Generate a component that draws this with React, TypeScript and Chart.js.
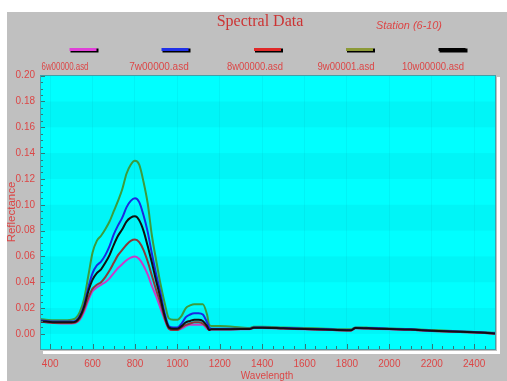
import React, { useEffect, useRef } from "react";
import { Chart, registerables } from "chart.js";

Chart.register(...registerables);

const wavelengths = [350,380,420,460,500,520,540,560,580,600,620,640,660,680,700,720,740,760,780,800,820,840,860,880,900,920,940,960,980,1000,1020,1040,1060,1080,1100,1120,1140,1150,1160,1200,1300,1340,1360,1400,1500,1600,1700,1800,1820,1840,1900,2000,2100,2200,2300,2400,2450,2500];

const s6w = [0.0095,0.009,0.0085,0.008,0.008, 0.0085,0.011,0.017,0.026,0.033, 0.036,0.038,0.040,0.043,0.047, 0.051,0.054,0.057,0.059,0.060, 0.058,0.053,0.046,0.037,0.029, 0.020,0.011,0.004,0.003,0.003, 0.004,0.006,0.007,0.007,0.007, 0.007,0.004,0.003,0.0033,0.0033, 0.0036,0.0036,0.0046,0.0046,0.0041, 0.0036,0.0031,0.0026,0.0026,0.0044, 0.0041,0.0036,0.0031,0.0022,0.0016, 0.001,0.0006,0.0001];
const s7w = [0.0105,0.010,0.0095,0.0095,0.0095, 0.010,0.014,0.022,0.036,0.047, 0.053,0.056,0.061,0.068,0.077, 0.084,0.090,0.098,0.103,0.105, 0.102,0.092,0.079,0.062,0.046, 0.032,0.016,0.006,0.005,0.005, 0.008,0.013,0.015,0.016,0.016, 0.015,0.009,0.005,0.004,0.004, 0.004,0.004,0.005,0.005,0.0045, 0.004,0.0035,0.003,0.003,0.0048, 0.0045,0.004,0.0035,0.0025,0.002, 0.0015,0.001,0.0005];
const s8w = [0.0095,0.009,0.0085,0.0085,0.0085, 0.009,0.012,0.019,0.028,0.035, 0.038,0.040,0.044,0.049,0.055, 0.061,0.065,0.069,0.072,0.073, 0.071,0.065,0.056,0.045,0.034, 0.024,0.012,0.004,0.003,0.003, 0.005,0.007,0.008,0.009,0.009, 0.008,0.005,0.003,0.0035,0.0035, 0.0037,0.0037,0.0047,0.0047,0.0042, 0.0037,0.0032,0.0027,0.0027,0.0045, 0.0042,0.0037,0.0032,0.0023,0.0017, 0.0011,0.0007,0.0002];
const s9w = [0.0115,0.011,0.0105,0.0105,0.011, 0.012,0.017,0.027,0.045,0.063, 0.072,0.076,0.081,0.087,0.095, 0.103,0.112,0.124,0.131,0.134, 0.131,0.118,0.101,0.076,0.057, 0.039,0.024,0.012,0.011,0.011, 0.014,0.020,0.022,0.023,0.023, 0.023,0.015,0.007,0.006,0.006, 0.005,0.0045,0.0055,0.0055,0.005, 0.0045,0.004,0.0035,0.0035,0.005, 0.0048,0.0042,0.0038,0.003,0.0022, 0.0015,0.0012,0.0008];
const s10w = [0.0095,0.0095,0.009,0.009,0.009, 0.0095,0.013,0.021,0.033,0.042, 0.047,0.050,0.055,0.061,0.069, 0.076,0.081,0.087,0.090,0.091, 0.088,0.080,0.068,0.055,0.041, 0.028,0.014,0.005,0.004,0.004, 0.006,0.009,0.010,0.011,0.011, 0.010,0.006,0.003,0.0035,0.0035, 0.0038,0.0038,0.0048,0.0048,0.0043, 0.0038,0.0033,0.0028,0.0028,0.0046, 0.0043,0.0038,0.0033,0.0024,0.0018, 0.0012,0.0008,0.0002];

const seriesNames = ["6w00000.asd", "7w00000.asd", "8w00000.asd", "9w00001.asd", "10w00000.asd"];
const seriesValues = [s6w, s7w, s8w, s9w, s10w];
const drawOrder = [4, 1, 3, 2, 0];
const lineColors = ["#c83cc8", "#1c28e0", "#8b3a3a", "#3c9c3c", "#101010"];
const legendColors = ["#e040d8", "#2030e8", "#e02828", "#8c9a38", "#000000"];
const legendLineX = [83.5, 175.5, 268, 360, 452.5];
const legendLabelX = [65, 159, 255, 346, 433];
const legendLabelW = [47, 60, 56, 57, 62];

const xTickValues = [400, 600, 800, 1000, 1200, 1400, 1600, 1800, 2000, 2200, 2400];
const yTickValues = [0, 0.02, 0.04, 0.06, 0.08, 0.1, 0.12, 0.14, 0.16, 0.18, 0.2];

const RED = "#dc4646";

const decorPlugin = {
  id: "decor",
  beforeDraw(chart: any) {
    const { ctx, chartArea: a, scales } = chart;
    const y = scales.y;
    ctx.save();
    ctx.fillStyle = "#ffffff";
    ctx.fillRect(0, 0, chart.width, chart.height);
    ctx.fillStyle = "#c0c0c0";
    ctx.fillRect(7, 12, chart.width - 7, chart.height - 12);
    ctx.fillStyle = "#00ffff";
    ctx.fillRect(a.left, a.top, a.right - a.left, a.bottom - a.top);
    ctx.fillStyle = "#00f5f7";
    for (let i = 0; i < yTickValues.length - 1; i++) {
      if (i % 2 === 0) {
        const top = y.getPixelForValue(yTickValues[i + 1]);
        const bot = y.getPixelForValue(yTickValues[i]);
        ctx.fillRect(a.left, top, a.right - a.left, bot - top);
      }
    }
    ctx.fillStyle = "#ffffff";
    ctx.fillRect(a.left + 3, a.bottom + 1, a.right - a.left + 1, 3);
    ctx.fillRect(a.right + 1, a.top + 2, 3, a.bottom - a.top + 2);
    ctx.restore();
  },
  afterDraw(chart: any) {
    const { ctx, chartArea: a, scales } = chart;
    const x = scales.x;
    const y = scales.y;
    ctx.save();
    ctx.strokeStyle = "#307878";
    ctx.lineWidth = 1;
    ctx.beginPath();
    for (let v = 0; v <= 0.2001; v += 0.005) {
      const py = Math.round(y.getPixelForValue(v)) + 0.5;
      const major = Math.abs(v / 0.02 - Math.round(v / 0.02)) < 1e-6;
      ctx.moveTo(a.left, py);
      ctx.lineTo(a.left + (major ? 5 : 3), py);
    }
    for (let v = 400; v <= 2500; v += 50) {
      const px = Math.round(x.getPixelForValue(v)) + 0.5;
      const major = v % 200 === 0;
      ctx.moveTo(px, a.bottom);
      ctx.lineTo(px, a.bottom - (major ? 6 : 4));
    }
    ctx.stroke();
    ctx.strokeStyle = "#40a0a8";
    ctx.strokeRect(a.left + 0.5, a.top + 0.5, a.right - a.left - 1, a.bottom - a.top - 1);

    ctx.fillStyle = "#cc3333";
    ctx.textAlign = "center";
    ctx.textBaseline = "middle";
    ctx.font = "16px 'Liberation Serif', 'Times New Roman', serif";
    ctx.fillText("Spectral Data", 260, 22);
    ctx.font = "italic 11px 'Liberation Sans', Arial, sans-serif";
    ctx.fillStyle = RED;
    ctx.fillText("Station (6-10)", 409, 26, 66);

    for (let i = 0; i < seriesNames.length; i++) {
      const cx = legendLineX[i];
      ctx.fillStyle = "#000000";
      ctx.fillRect(cx - 13, 48.5, 28, 4);
      ctx.fillStyle = legendColors[i];
      ctx.fillRect(cx - 14, 48, 27, 3);
      ctx.fillStyle = RED;
      ctx.font = "10px 'Liberation Sans', Arial, sans-serif";
      ctx.fillText(seriesNames[i], legendLabelX[i], 67, legendLabelW[i]);
    }

    ctx.font = "10px 'Liberation Sans', Arial, sans-serif";
    ctx.fillText("Wavelength", 267, 376);
    ctx.translate(12, 212);
    ctx.rotate(-Math.PI / 2);
    ctx.font = "11.5px 'Liberation Sans', Arial, sans-serif";
    ctx.fillText("Reflectance", 0, 0);
    ctx.restore();
  },
};

export default function App() {
  const ref = useRef<HTMLCanvasElement | null>(null);
  useEffect(() => {
    if (!ref.current) return;
    const chart = new Chart(ref.current, {
      type: "line",
      data: {
        datasets: seriesNames.map((name, i) => ({
          label: name,
          data: wavelengths.map((w, j) => ({ x: w, y: seriesValues[i][j] })),
          borderColor: lineColors[i],
          backgroundColor: lineColors[i],
          borderWidth: 2,
          pointRadius: 0,
          order: drawOrder[i],
          cubicInterpolationMode: "monotone" as const,
          fill: false,
        })),
      },
      options: {
        animation: false,
        responsive: false,
        layout: { padding: { left: 7, top: 75, right: 11, bottom: 0 } },
        plugins: { legend: { display: false }, title: { display: false }, tooltip: { enabled: false } },
        scales: {
          x: {
            type: "linear",
            min: 352,
            max: 2503,
            afterFit: (s: any) => { s.height = 31; },
            afterBuildTicks: (s: any) => { s.ticks = xTickValues.map((v) => ({ value: v })); },
            grid: { display: true, color: "rgba(0,150,170,0.1)", drawTicks: false, drawOnChartArea: true },
            border: { display: false },
            ticks: {
              color: RED,
              padding: 8,
              maxRotation: 0,
              autoSkip: false,
              font: { family: "'Liberation Sans', Arial, sans-serif", size: 10 },
              callback: (v: any) => String(v),
            },
          },
          y: {
            type: "linear",
            min: -0.0125,
            max: 0.2005,
            afterFit: (s: any) => { s.width = 33; },
            afterBuildTicks: (s: any) => { s.ticks = yTickValues.map((v) => ({ value: v })); },
            grid: { display: false, drawTicks: false },
            border: { display: false },
            ticks: {
              color: RED,
              padding: 5,
              autoSkip: false,
              font: { family: "'Liberation Sans', Arial, sans-serif", size: 10 },
              callback: (v: any) => Number(v).toFixed(2),
            },
          },
        },
      },
      plugins: [decorPlugin],
    });
    return () => chart.destroy();
  }, []);
  return (
    <div style={{ position: "absolute", left: 0, top: 0, width: 507, height: 381 }}>
      <canvas ref={ref} width={507} height={381} style={{ display: "block" }} />
    </div>
  );
}
